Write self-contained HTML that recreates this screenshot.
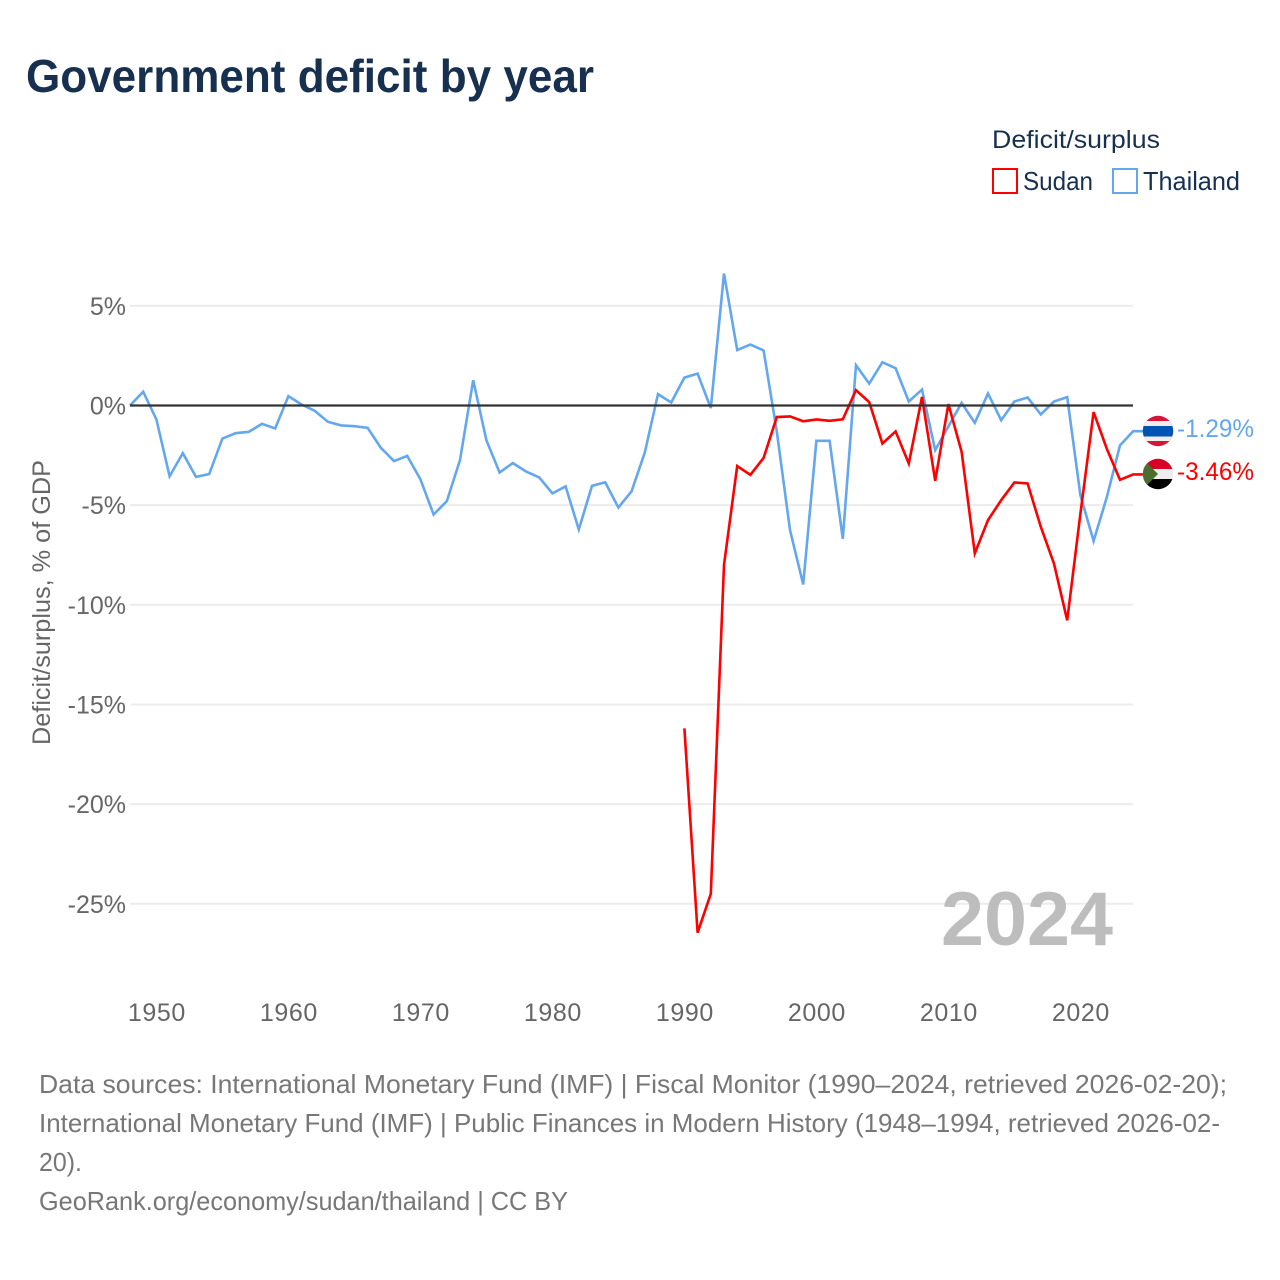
<!DOCTYPE html>
<html lang="en">
<head>
<meta charset="utf-8">
<title>Government deficit by year</title>
<style>
html,body{margin:0;padding:0;background:#fff;}
svg{display:block;font-family:"Liberation Sans",sans-serif;}
</style>
</head>
<body>
<svg id="chart" width="1280" height="1280" viewBox="0 0 1280 1280" xmlns="http://www.w3.org/2000/svg">
  <defs>
    <clipPath id="thai-clip"><circle cx="1158" cy="431" r="15.2"/></clipPath>
    <clipPath id="sudan-clip"><circle cx="1158" cy="474" r="15.2"/></clipPath>
  </defs>
  <rect x="0" y="0" width="1280" height="1280" fill="#ffffff"/>
  <text x="26" y="92" font-size="46" font-weight="700" fill="#17304f" textLength="568" lengthAdjust="spacingAndGlyphs">Government deficit by year</text>

  <text x="992" y="148" font-size="25" fill="#17304f" textLength="168" lengthAdjust="spacingAndGlyphs">Deficit/surplus</text>
  <rect x="993" y="169" width="24" height="24" fill="none" stroke="#ff0000" stroke-width="2"/>
  <text x="1023" y="190" font-size="26" fill="#17304f" textLength="70" lengthAdjust="spacingAndGlyphs">Sudan</text>
  <rect x="1113" y="169" width="24" height="24" fill="none" stroke="#63a7ee" stroke-width="2"/>
  <text x="1143" y="190" font-size="26" fill="#17304f" textLength="97" lengthAdjust="spacingAndGlyphs">Thailand</text>

  <text transform="translate(50,745) rotate(-90)" x="0" y="0" font-size="25" fill="#666666" textLength="285" lengthAdjust="spacingAndGlyphs">Deficit/surplus, % of GDP</text>

  <g id="grid"></g>
  <g id="y-ticks"></g>
  <g id="x-ticks"></g>

  <text x="941" y="945" font-size="76" font-weight="700" fill="#bdbdbd" textLength="172" lengthAdjust="spacingAndGlyphs">2024</text>

  <g id="series"></g>

  <g clip-path="url(#thai-clip)">
    <rect x="1142" y="415" width="32" height="32" fill="#d8143a"/>
    <rect x="1142" y="421" width="32" height="20" fill="#eeeeee"/>
    <rect x="1142" y="426" width="32" height="10.5" fill="#0052b4"/>
  </g>
  <g clip-path="url(#sudan-clip)">
    <rect x="1142" y="458" width="32" height="11" fill="#d80027"/>
    <rect x="1142" y="469" width="32" height="10" fill="#eeeeee"/>
    <rect x="1142" y="479" width="32" height="11" fill="#000000"/>
    <polygon points="1142,458 1158,474 1142,490" fill="#496e2d"/>
  </g>
  <text id="end-thailand" x="1177" y="437" font-size="25" fill="#63a7ee" textLength="77" lengthAdjust="spacingAndGlyphs">-1.29%</text>
  <text id="end-sudan" x="1177" y="480" font-size="25" fill="#ff0000" textLength="77" lengthAdjust="spacingAndGlyphs">-3.46%</text>

  <g font-size="26" fill="#777777">
    <text x="39" y="1093" textLength="1188" lengthAdjust="spacingAndGlyphs">Data sources: International Monetary Fund (IMF) | Fiscal Monitor (1990–2024, retrieved 2026-02-20);</text>
    <text x="39" y="1132" textLength="1181" lengthAdjust="spacingAndGlyphs">International Monetary Fund (IMF) | Public Finances in Modern History (1948–1994, retrieved 2026-02-</text>
    <text x="39" y="1171" textLength="43" lengthAdjust="spacingAndGlyphs">20).</text>
    <text x="39" y="1210" textLength="529" lengthAdjust="spacingAndGlyphs">GeoRank.org/economy/sudan/thailand | CC BY</text>
  </g>
</svg>
<script>
const yTicks = [5, 0, -5, -10, -15, -20, -25];
const xTicks = [1950, 1960, 1970, 1980, 1990, 2000, 2010, 2020];
const thailandStartYear = 1948;
const thailandValues = [
  0, 0.69, -0.7, -3.55, -2.39, -3.58, -3.44, -1.66, -1.39, -1.32,
  -0.92, -1.15, 0.47, 0.05, -0.27, -0.82, -1.0, -1.04, -1.12, -2.12,
  -2.79, -2.53, -3.7, -5.47, -4.8, -2.74, 1.27, -1.74, -3.36, -2.89,
  -3.31, -3.61, -4.41, -4.06, -6.22, -4.03, -3.85, -5.12, -4.3, -2.36,
  0.57, 0.15, 1.4, 1.6, -0.13, 6.62, 2.78, 3.06, 2.76, -1.3,
  -6.25, -8.98, -1.77, -1.77, -6.69, 2.02, 1.1, 2.17, 1.87, 0.2,
  0.8, -2.24, -1.05, 0.13, -0.87, 0.6, -0.74, 0.2, 0.4, -0.45,
  0.2, 0.42, -4.5, -6.8, -4.6, -2.0, -1.29
];
const sudanStartYear = 1990;
const sudanValues = [
  -16.2, -26.45, -24.5, -8.0, -3.04, -3.48, -2.63, -0.58, -0.55, -0.79,
  -0.7, -0.77, -0.69, 0.77, 0.17, -1.91, -1.3, -2.91, 0.43, -3.78,
  0.07, -2.32, -7.42, -5.75, -4.75, -3.86, -3.91, -6.09, -7.94, -10.78,
  -5.43, -0.33, -2.17, -3.73, -3.46
];

const NS = 'http://www.w3.org/2000/svg';
function xScale(year) { return 130 + (year - 1948) * 13.2; }
function yScale(value) { return 405.5 - value * 19.93; }
function pointsFor(values, startYear) {
  const pts = values.map(function (v, i) {
    return xScale(startYear + i).toFixed(2) + ',' + yScale(v).toFixed(2);
  });
  const lastX = xScale(startYear + values.length - 1);
  const lastY = yScale(values[values.length - 1]);
  pts.push((lastX + 10).toFixed(2) + ',' + lastY.toFixed(2));
  return pts.join(' ');
}

const gridGroup = document.getElementById('grid');
const yGroup = document.getElementById('y-ticks');
const xGroup = document.getElementById('x-ticks');
const seriesGroup = document.getElementById('series');

yTicks.forEach(function (t) {
  if (t !== 0) {
    const line = document.createElementNS(NS, 'line');
    
    
    line.setAttribute('x1', 130);
    line.setAttribute('x2', 1133);
    line.setAttribute('y1', yScale(t));
    line.setAttribute('y2', yScale(t));
    line.setAttribute('stroke', '#ececec');
    line.setAttribute('stroke-width', 2);
    gridGroup.appendChild(line);
  }

  const label = document.createElementNS(NS, 'text');
  
  
  label.setAttribute('x', 126);
  label.setAttribute('y', yScale(t) + 9);
  label.setAttribute('text-anchor', 'end');
  label.setAttribute('font-size', 25);
  label.setAttribute('fill', '#666666');
  label.textContent = t + '%';
  yGroup.appendChild(label);
});

xTicks.forEach(function (t) {
  const label = document.createElementNS(NS, 'text');
  
  
  label.setAttribute('x', xScale(t) + 0.5);
  label.setAttribute('y', 1021);
  label.setAttribute('text-anchor', 'middle');
  label.setAttribute('font-size', 25);
  label.setAttribute('letter-spacing', '0.6');
  label.setAttribute('fill', '#666666');
  label.textContent = t;
  xGroup.appendChild(label);
});

const thailandLine = document.createElementNS(NS, 'polyline');


thailandLine.setAttribute('points', pointsFor(thailandValues, thailandStartYear));
thailandLine.setAttribute('fill', 'none');
thailandLine.setAttribute('stroke', '#63a7ee');
thailandLine.setAttribute('stroke-width', 2.6);
thailandLine.setAttribute('stroke-linejoin', 'miter');
seriesGroup.appendChild(thailandLine);

const sudanLine = document.createElementNS(NS, 'polyline');


sudanLine.setAttribute('points', pointsFor(sudanValues, sudanStartYear));
sudanLine.setAttribute('fill', 'none');
sudanLine.setAttribute('stroke', '#ff0000');
sudanLine.setAttribute('stroke-width', 2.6);
sudanLine.setAttribute('stroke-linejoin', 'miter');
seriesGroup.appendChild(sudanLine);

const zeroLine = document.createElementNS(NS, 'line');


zeroLine.setAttribute('x1', 130);
zeroLine.setAttribute('x2', 1133);
zeroLine.setAttribute('y1', yScale(0));
zeroLine.setAttribute('y2', yScale(0));
zeroLine.setAttribute('stroke', '#333333');
zeroLine.setAttribute('stroke-width', 2.2);
seriesGroup.appendChild(zeroLine);
</script>
</body>
</html>
